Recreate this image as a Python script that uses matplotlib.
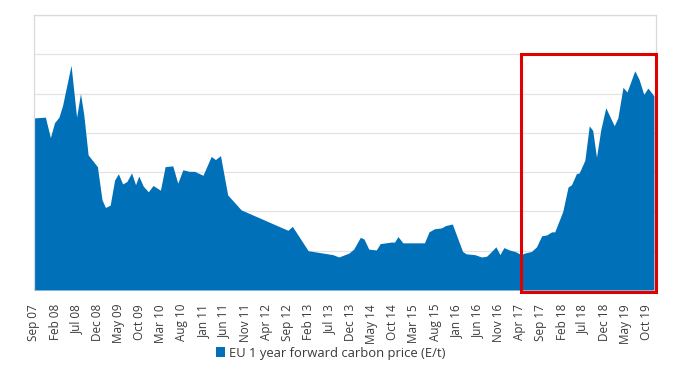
import pandas as pd
import matplotlib.pyplot as plt
import matplotlib.dates as mdates
from matplotlib.patches import Rectangle

# EU 1 year forward carbon price (E/t)
dates = [
    '2007-09-01', '2007-11-22', '2007-12-28', '2008-01-27', '2008-02-28', '2008-03-25',
    '2008-05-25', '2008-07-04', '2008-08-01', '2008-08-25', '2008-09-25', '2008-12-01',
    '2009-01-03', '2009-01-28', '2009-03-03', '2009-04-04', '2009-05-01', '2009-06-01',
    '2009-07-01', '2009-08-04', '2009-09-02', '2009-09-25', '2009-10-28', '2009-12-03',
    '2010-01-06', '2010-02-28', '2010-04-03', '2010-05-28', '2010-07-03', '2010-08-09',
    '2010-09-25', '2010-11-01', '2011-01-01', '2011-03-01', '2011-04-01', '2011-05-07',
    '2011-06-28', '2011-10-03', '2012-09-04', '2012-10-06', '2013-01-28', '2013-07-25',
    '2013-09-06', '2013-11-18', '2013-12-22', '2014-02-08', '2014-03-06', '2014-04-10',
    '2014-06-03', '2014-07-01', '2014-09-19', '2014-10-13', '2014-11-06', '2014-12-12',
    '2015-05-16', '2015-06-18', '2015-07-28', '2015-09-15', '2015-10-15', '2015-12-03',
    '2016-02-15', '2016-03-13', '2016-05-13', '2016-07-01', '2016-08-06', '2016-09-10',
    '2016-10-12', '2016-11-10', '2016-12-09', '2017-01-16', '2017-02-27', '2017-04-13',
    '2017-05-07', '2017-06-25', '2017-08-01', '2017-09-07', '2017-10-12', '2017-11-18',
    '2017-12-10', '2018-02-06', '2018-03-16', '2018-04-10', '2018-05-15', '2018-06-04',
    '2018-07-15', '2018-08-16', '2018-09-10', '2018-10-07', '2018-11-07', '2018-12-13',
    '2019-02-12', '2019-03-10', '2019-04-16', '2019-05-15', '2019-07-10', '2019-08-10',
    '2019-09-13', '2019-10-13', '2019-11-25',
]
prices = [
    21.9, 22.0, 19.4, 21.3, 22.0, 23.5,
    28.6, 22.0, 25.0, 22.3, 17.2, 15.7,
    11.5, 10.5, 10.8, 14.0, 14.8, 13.5,
    13.8, 14.9, 13.4, 14.5, 13.2, 12.5,
    13.3, 12.7, 15.7, 15.8, 13.6, 15.3,
    15.1, 15.1, 14.6, 17.0, 16.6, 17.1,
    12.1, 10.2, 7.6, 8.1, 5.0, 4.5,
    4.2, 4.7, 5.2, 6.7, 6.5, 5.2,
    5.1, 5.9, 6.1, 6.1, 6.8, 6.0,
    6.0, 7.4, 7.8, 7.9, 8.2, 8.4,
    4.9, 4.6, 4.5, 4.2, 4.3, 4.9,
    5.5, 4.5, 5.4, 5.1, 4.9, 4.5,
    4.7, 4.9, 5.5, 6.9, 7.0, 7.4,
    7.4, 10.0, 13.1, 13.4, 14.8, 14.9,
    16.5, 20.9, 20.3, 16.9, 20.4, 23.2,
    20.9, 21.9, 25.8, 25.2, 27.9, 26.8,
    24.9, 25.7, 24.7,
]
series_label = 'EU 1 year forward carbon price (E/t)'

# highlighted period (red box)
box_start = '2017-04-10'
box_top = 30

x = pd.to_datetime(dates)
x_start = pd.Timestamp('2007-09-01')
x_end = pd.Timestamp('2019-12-10')

plt.rcParams['font.family'] = ['Open Sans', 'DejaVu Sans']

fig = plt.figure(figsize=(6.9, 3.68), dpi=100)
ax = fig.add_axes([34 / 690, 78 / 368, 622 / 690, 275 / 368])

blue = '#0071B8'
ax.fill_between(x, prices, 0, color=blue, linewidth=0, label=series_label)

ax.set_xlim(x_start, x_end)
ax.set_ylim(0, 35)
ax.set_yticks(range(0, 36, 5))
ax.set_yticklabels([])
ax.grid(axis='y', color='#e3e3e3', linewidth=0.9)
ax.set_axisbelow(True)

ticks = pd.date_range('2007-09-01', '2019-10-01', freq='5MS')
ax.set_xticks(ticks)
ax.xaxis.set_major_formatter(mdates.DateFormatter('%b %y'))
ax.tick_params(axis='x', length=0, pad=10, labelsize=8.5, labelcolor='#3a3a3a', rotation=90)
ax.tick_params(axis='y', length=0)

for side in ['top', 'left', 'right']:
    ax.spines[side].set_color('#d9d9d9')
    ax.spines[side].set_linewidth(0.9)
ax.spines['bottom'].set_visible(False)

# red highlight box
bx0 = mdates.date2num(pd.Timestamp(box_start))
bx1 = mdates.date2num(x_end)
rect = Rectangle((bx0, -0.2), bx1 - bx0, box_top + 0.2, fill=False,
                 edgecolor='#e00000', linewidth=2.2, clip_on=False, zorder=5)
ax.add_patch(rect)

fig.legend(loc='center', bbox_to_anchor=(331 / 690, 1 - 353 / 368), frameon=False,
           fontsize=9.4, handlelength=0.7, handleheight=0.7, handletextpad=0.3,
           labelcolor='#3a3a3a')

fig.savefig('out.png', dpi=100)
